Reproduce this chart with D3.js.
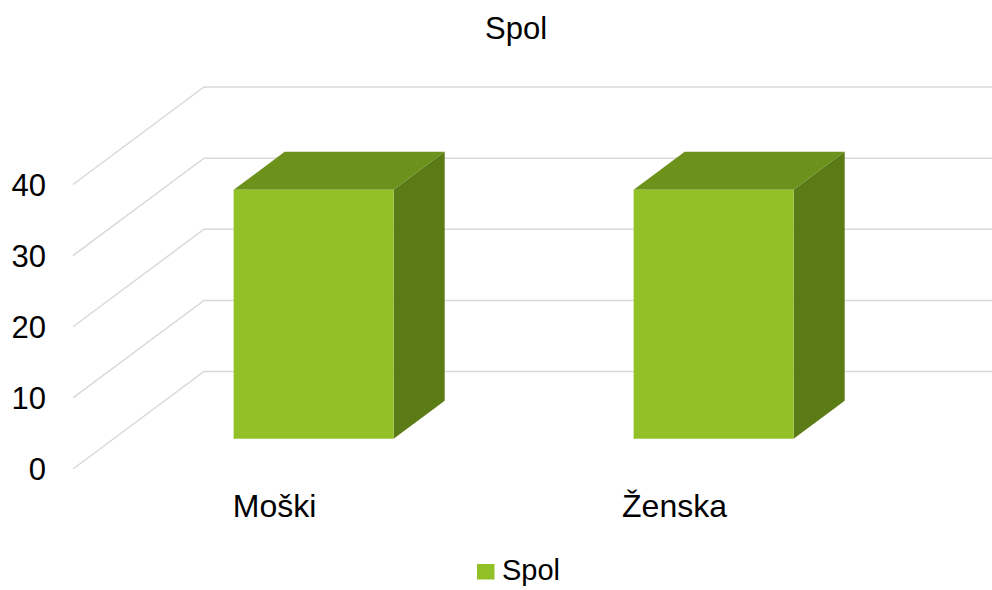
<!DOCTYPE html>
<html>
<head>
<meta charset="utf-8">
<script src="https://cdn.jsdelivr.net/npm/d3@7"></script>
<style>
  body { margin: 0; background: #fff; }
  svg { display: block; font-family: "Liberation Sans", Arial, sans-serif; }
</style>
</head>
<body>
<svg width="992" height="590"></svg>
<script>
// Data
var categories = ["Moški", "Ženska"];
var values = [35, 35];
var yTicks = [0, 10, 20, 30, 40];
var seriesName = "Spol";
var chartTitle = "Spol";

var svg = d3.select("svg"),
    width = +svg.attr("width"),
    height = +svg.attr("height");

// 3D look: oblique offset of the back wall
var depthX = 131, depthY = 97.5;
var barFront = 0.31, barBack = 0.70;   // bar depth as share of the floor

var x = d3.scaleBand()
    .domain(categories)
    .range([73, 873]);

var y = d3.scaleLinear()
    .domain([0, 40])
    .range([469, 184.5]);

var barWidth = x.bandwidth() / 2.5;   // gap width 150%

function pt(px, v, t) {
  return [px + depthX * t, y(v) - depthY * t];
}

function poly(points) {
  return points.map(function(p) { return p.join(","); }).join(" ");
}

// Gridlines: diagonal on the side wall, then along the back wall
var grid = svg.append("g").attr("class", "grid");
grid.selectAll("polyline")
  .data(yTicks)
  .enter().append("polyline")
    .attr("fill", "none")
    .attr("stroke", "#d9d9d9")
    .attr("stroke-width", 1.5)
    .attr("points", function(d) {
      return poly([pt(x.range()[0], d, 0), pt(x.range()[0], d, 1), pt(x.range()[1], d, 1)]);
    });

// Tick labels
svg.append("g")
  .selectAll("text")
  .data(yTicks)
  .enter().append("text")
    .attr("x", 46)
    .attr("y", function(d) { return y(d); })
    .attr("dy", "0.36em")
    .attr("text-anchor", "end")
    .attr("font-size", 31)
    .attr("fill", "#000")
    .text(function(d) { return d; });

// Bars
var bars = svg.append("g")
  .selectAll("g")
  .data(categories.map(function(c, i) { return { cat: c, value: values[i] }; }))
  .enter().append("g");

bars.append("polygon")   // top
    .attr("fill", "#6d921c")
    .attr("points", function(d) {
      var x1 = x(d.cat) + (x.bandwidth() - barWidth) / 2, x2 = x1 + barWidth;
      return poly([pt(x1, d.value, barFront), pt(x2, d.value, barFront),
                   pt(x2, d.value, barBack), pt(x1, d.value, barBack)]);
    });

bars.append("polygon")   // side
    .attr("fill", "#5b7b17")
    .attr("points", function(d) {
      var x2 = x(d.cat) + (x.bandwidth() + barWidth) / 2;
      return poly([pt(x2, 0, barFront), pt(x2, 0, barBack),
                   pt(x2, d.value, barBack), pt(x2, d.value, barFront)]);
    });

bars.append("polygon")   // front
    .attr("fill", "#92c127")
    .attr("points", function(d) {
      var x1 = x(d.cat) + (x.bandwidth() - barWidth) / 2, x2 = x1 + barWidth;
      return poly([pt(x1, 0, barFront), pt(x2, 0, barFront),
                   pt(x2, d.value, barFront), pt(x1, d.value, barFront)]);
    });

// Category labels
svg.append("g")
  .selectAll("text")
  .data(categories)
  .enter().append("text")
    .attr("x", function(d) { return x(d) + x.bandwidth() / 2 + 1.5; })
    .attr("y", 517)
    .attr("text-anchor", "middle")
    .attr("font-size", 32)
    .attr("fill", "#000")
    .text(function(d) { return d; });

// Title
svg.append("text")
    .attr("x", 516)
    .attr("y", 39)
    .attr("text-anchor", "middle")
    .attr("font-size", 31)
    .attr("fill", "#000")
    .text(chartTitle);

// Legend
var legend = svg.append("g").attr("transform", "translate(477,564)");
legend.append("rect")
    .attr("width", 17.5)
    .attr("height", 15.5)
    .attr("fill", "#92c127");
legend.append("text")
    .attr("x", 25)
    .attr("y", 15.5)
    .attr("font-size", 29)
    .attr("fill", "#000")
    .text(seriesName);
</script>
</body>
</html>
